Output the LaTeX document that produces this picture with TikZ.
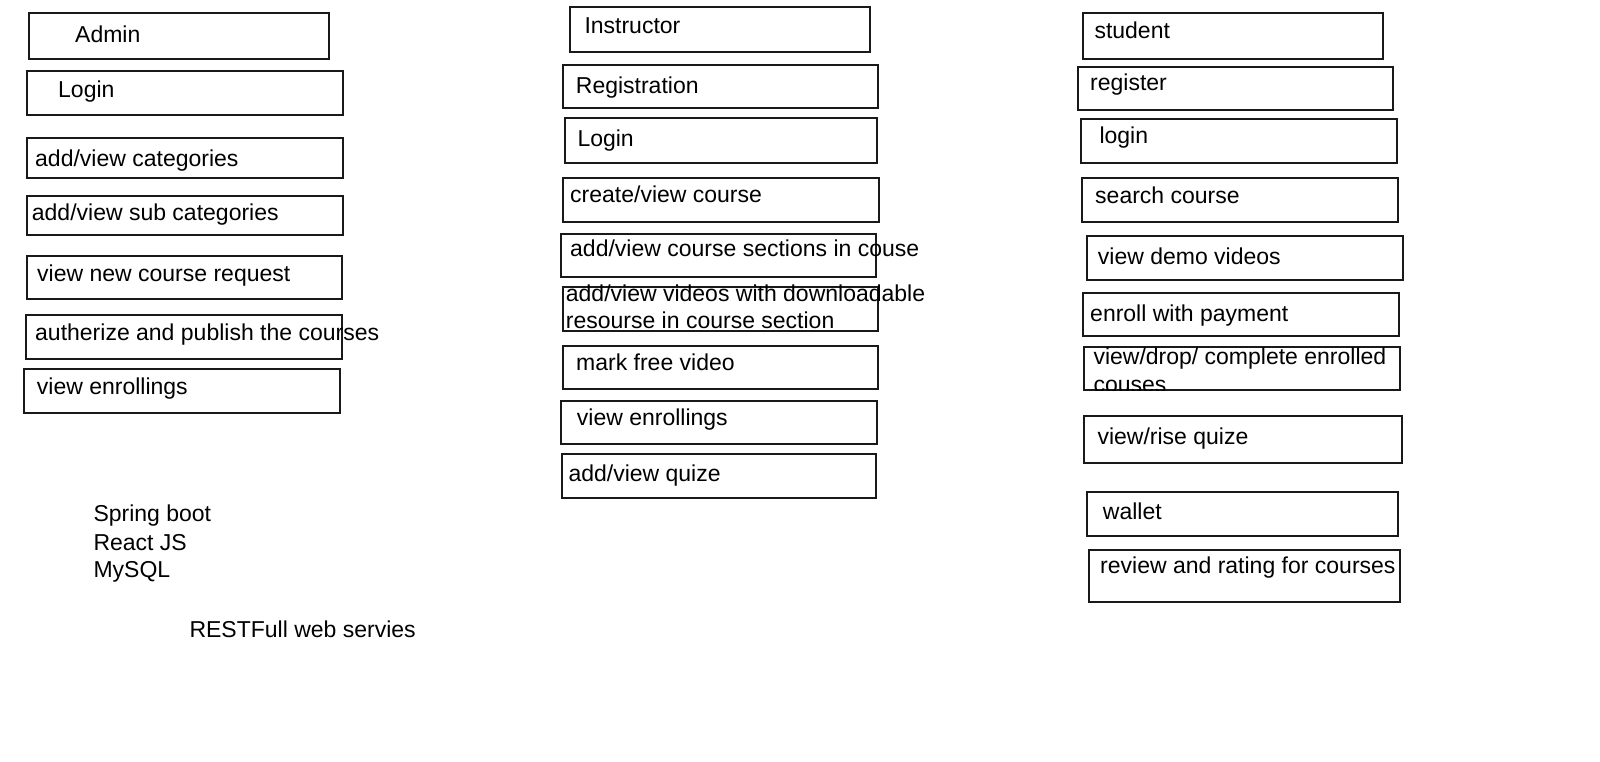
\documentclass[tikz,border=0pt]{standalone}
\usepackage{fontspec}
\setmainfont{Liberation Sans}
\tikzset{
  boxst/.style={draw=black!90, line width=2pt, inner sep=0pt, outer sep=0pt, rectangle},
  lbl/.style={inner sep=0pt, anchor=base west, text=black, font=\fontsize{23}{27.6}\selectfont}
}
% #1 name, #2 x, #3 y, #4 w, #5 h, #6 tx, #7 ty, #8 text
\newcommand\ubox[8]{%
  \node[boxst, minimum width=#4pt, minimum height=#5pt, anchor=north west] (#1) at (#2,#3) {};
  \node[lbl] (#1-t) at (#6,#7) {#8};}
\begin{document}
\begin{tikzpicture}[x=1pt,y=-1pt]
\useasboundingbox[fill=white] (0,0) rectangle (1600,762);
% Admin column
\ubox{a1}{29}{13}{300}{46}{75}{43}{Admin}
\ubox{a2}{27}{71}{316}{44}{58}{97.7}{Login}
\ubox{a3}{27}{138}{316}{40}{35}{166.7}{add/view categories}
\ubox{a4}{27}{196}{316}{39}{31.7}{220}{add/view sub categories}
\ubox{a5}{27}{256}{315}{43}{37}{281.7}{view new course request}
\ubox{a6}{26}{315}{316}{44}{35}{340}{autherize and publish the courses}
\ubox{a7}{24}{369}{316}{44}{36.7}{394.3}{view enrollings}
% Instructor column
\ubox{i1}{570}{7}{300}{45}{584.3}{33.3}{Instructor}
\ubox{i2}{563}{65}{315}{43}{575.7}{93.3}{Registration}
\ubox{i3}{565}{118}{312}{45}{577.3}{146.7}{Login}
\ubox{i4}{563}{178}{316}{44}{570}{202.3}{create/view course}
\ubox{i5}{561}{234}{315}{43}{570}{256.7}{add/view course sections in couse}
\ubox{i6}{563}{287}{315}{44}{565.7}{301.7}{add/view videos with downloadable}
\node[lbl] (i6-t2) at (565.7,328.3) {resourse in course section};
\ubox{i7}{563}{346}{315}{43}{576}{370}{mark free video}
\ubox{i8}{561}{401}{316}{43}{576.7}{425}{view enrollings}
\ubox{i9}{562}{454}{314}{44}{568.3}{481}{add/view quize}
% Student column
\ubox{s1}{1083}{13}{300}{46}{1094.3}{38.3}{student}
\ubox{s2}{1078}{67}{315}{43}{1090}{90.7}{register}
\ubox{s3}{1081}{119}{316}{44}{1099.3}{143.3}{login}
\ubox{s4}{1082}{178}{316}{44}{1095}{204}{search course}
\ubox{s5}{1087}{236}{316}{44}{1097.7}{264.3}{view demo videos}
\ubox{s6}{1083}{293}{316}{43}{1090}{321}{enroll with payment}
\ubox{s7}{1084}{347}{316}{43}{1093.3}{364}{view/drop/ complete enrolled}
\begin{scope}
  \clip (1080,347) rectangle (1404,390);
  \node[lbl] (s7-t2) at (1093.3,392) {couses};
\end{scope}
\ubox{s8}{1084}{416}{318}{47}{1097.3}{444.3}{view/rise quize}
\ubox{s9}{1087}{492}{311}{44}{1102.7}{519.3}{wallet}
\ubox{s10}{1089}{550}{311}{52}{1100}{573.3}{review and rating for courses}
% Technology notes
\node[lbl] (t1) at (93.3,521.7) {Spring boot};
\node[lbl] (t2) at (93.3,550) {React JS};
\node[lbl] (t3) at (93.3,577.7) {MySQL};
\node[lbl] (t4) at (189.3,637.7) {RESTFull web servies};
\end{tikzpicture}
\end{document}
